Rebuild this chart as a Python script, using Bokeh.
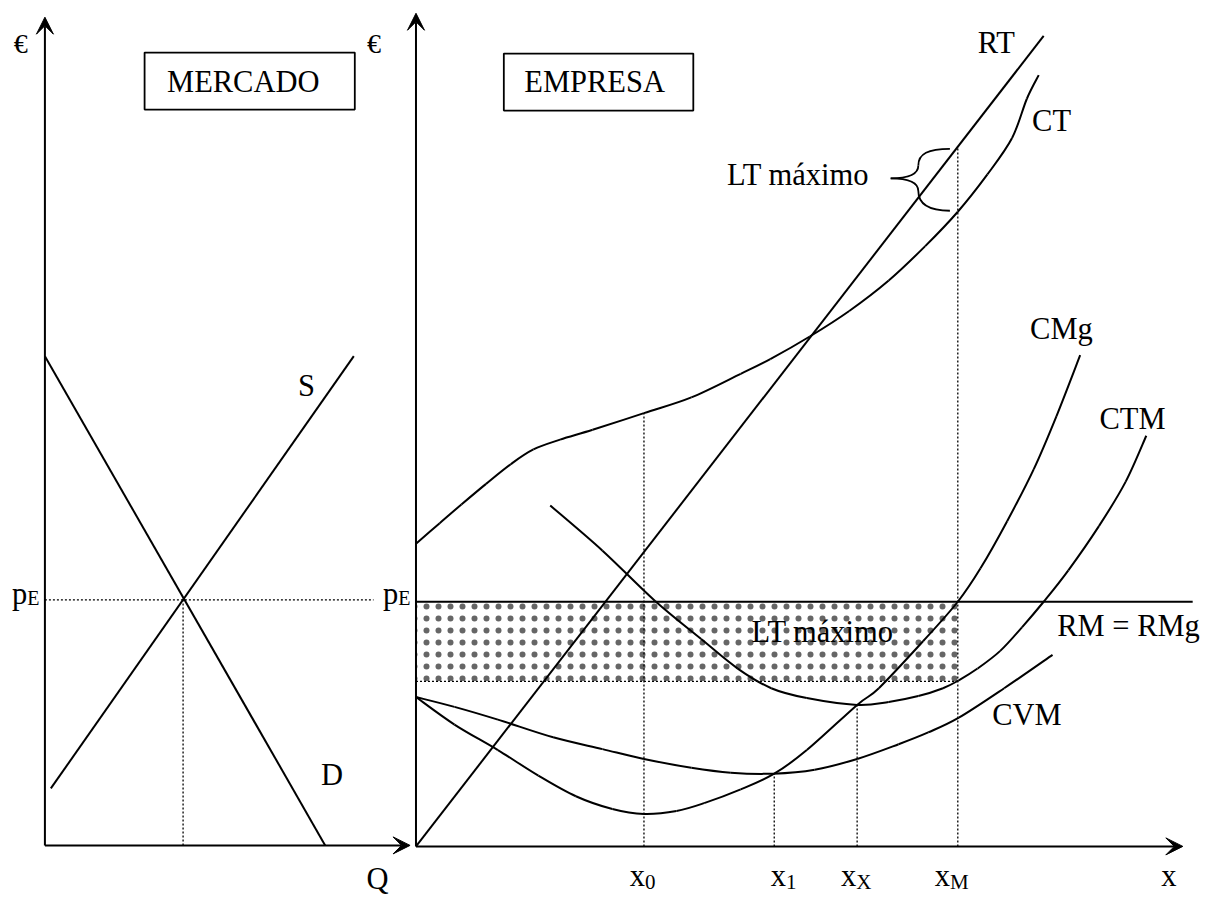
from bokeh.plotting import figure
from bokeh.models import Range1d, Arrow, VeeHead
from bokeh.core.properties import value
from bokeh.embed import file_html
from bokeh.resources import INLINE

FONT = "Liberation Serif"

# ---------------- MERCADO (market panel) ----------------
demand_q = [0, 284]
demand_p = [498, 0]
supply_q = [6, 313]
supply_p = [58, 498]
q_eq = 140
p_eq = 250
q_axis_end = 370
p_axis_end = 843

# ---------------- EMPRESA (firm panel) ----------------
rt_x = [0, 636]
rt_y = [0, 825]

ct_x = [0, 24, 46, 71, 96, 119, 146, 179, 231, 279, 329, 359, 399, 439, 479, 516, 549, 579, 604, 619, 631]
ct_y = [308, 329, 348, 369, 389, 404, 414, 424, 441, 457, 481, 496, 519, 545, 576, 611, 646, 684, 721, 761, 785]

ctm_x = [136, 189, 242, 289, 326, 360, 396, 447, 479, 509, 534, 550, 569, 592, 614, 636, 661, 692, 719, 740]
ctm_y = [347, 301, 250, 211, 181, 161, 151, 144, 147, 153, 161, 169, 181, 199, 223, 249, 281, 326, 371, 418]

cmg_x = [0, 39, 83, 124, 162, 199, 231, 264, 292, 329, 363, 396, 447, 469, 514, 549, 572, 599, 626, 649, 673]
cmg_y = [152, 124, 98, 72, 51, 38, 33, 36, 44, 58, 74, 98, 144, 161, 209, 249, 283, 331, 384, 438, 500]

cvm_x = [0, 39, 83, 139, 189, 231, 279, 319, 362, 404, 447, 489, 519, 550, 596, 645]
cvm_y = [152, 142, 129, 111, 99, 89, 80, 75, 74, 78, 89, 104, 116, 131, 161, 195]

p_e = 249
rm_end = 787
x_0, x_1, x_X, x_M = 231, 363, 447, 549
ct_at_x0 = 441
cvm_min = 74
ctm_min = 144
ctm_at_xM = 168
rt_at_xM = 712
x_axis_end = 777
y_axis_end = 848

x_tick_main = ["x", "x", "x", "x"]
x_tick_sub = ["0", "1", "X", "M"]

# ---------------- figure ----------------
p = figure(width=1206, height=895,
           x_range=Range1d(-421, 801), y_range=Range1d(-50, 861),
           output_backend="svg", toolbar_location=None,
           x_axis_location=None, y_axis_location=None,
           min_border=0, background_fill_color="white",
           border_fill_color="white")
p.extra_x_ranges = {"mkt": Range1d(-45, 1177)}
p.extra_y_ranges = {"mkt": Range1d(-51, 860)}
p.grid.visible = False
p.outline_line_color = None
p.title.visible = False

MK = dict(x_range_name="mkt", y_range_name="mkt")
LW = 2


def smooth_curve(xs, ys, **kw):
    """Draw a smooth curve through the read points (Catmull-Rom as cubic Beziers)."""
    n = len(xs)
    x0, y0, x1, y1, cx0, cy0, cx1, cy1 = ([] for _ in range(8))
    for i in range(n - 1):
        a = max(i - 1, 0)
        d = min(i + 2, n - 1)
        x0.append(xs[i]); y0.append(ys[i])
        x1.append(xs[i + 1]); y1.append(ys[i + 1])
        cx0.append(xs[i] + (xs[i + 1] - xs[a]) / 6)
        cy0.append(ys[i] + (ys[i + 1] - ys[a]) / 6)
        cx1.append(xs[i + 1] - (xs[d] - xs[i]) / 6)
        cy1.append(ys[i + 1] - (ys[d] - ys[i]) / 6)
    p.bezier(x0=x0, y0=y0, x1=x1, y1=y1, cx0=cx0, cy0=cy0, cx1=cx1, cy1=cy1,
             line_width=LW, line_color="black", **kw)


# ---- shaded profit rectangle (dot pattern) ----
p.quad(left=[0], right=[x_M], bottom=[ctm_at_xM], top=[p_e],
       fill_color=None, line_color=None,
       hatch_pattern="dot", hatch_scale=12, hatch_weight=1,
       hatch_color="black", hatch_alpha=0.6)

# ---- market panel ----
p.line([0, 333], [p_eq, p_eq], line_dash="2 2", line_width=1.3, color="black", **MK)
p.line([q_eq, q_eq], [0, p_eq], line_dash="2 2", line_width=1.3, color="black", **MK)
p.line(demand_q, demand_p, line_width=LW, color="black", **MK)
p.line(supply_q, supply_p, line_width=LW, color="black", **MK)
head = dict(size=17, fill_color="black", line_color="black", line_width=1)
p.add_layout(Arrow(end=VeeHead(**head), x_start=0, y_start=0, x_end=0, y_end=p_axis_end,
                   line_width=LW, line_color="black", **MK))
p.add_layout(Arrow(end=VeeHead(**head), x_start=0, y_start=0, x_end=q_axis_end, y_end=0,
                   line_width=LW, line_color="black", **MK))
p.quad(left=[101], right=[314], bottom=[749], top=[807], fill_color=None,
       line_color="black", line_width=1.8, **MK)

# ---- firm panel ----
dl = dict(line_dash="2 2", line_width=1.3, color="black")
p.line([x_0, x_0], [0, ct_at_x0], **dl)
p.line([x_1, x_1], [0, cvm_min], **dl)
p.line([x_X, x_X], [0, ctm_min], **dl)
p.line([x_M, x_M], [0, rt_at_xM], **dl)
p.line([0, x_M], [ctm_at_xM, ctm_at_xM], **dl)
p.line([0, rm_end], [p_e, p_e], line_width=LW, color="black")
p.line(rt_x, rt_y, line_width=LW, color="black")
smooth_curve(ct_x, ct_y)
smooth_curve(ctm_x, ctm_y)
smooth_curve(cmg_x, cmg_y)
smooth_curve(cvm_x, cvm_y)
p.add_layout(Arrow(end=VeeHead(**head), x_start=0, y_start=0, x_end=0, y_end=y_axis_end,
                   line_width=LW, line_color="black"))
p.add_layout(Arrow(end=VeeHead(**head), x_start=0, y_start=0, x_end=x_axis_end, y_end=0,
                   line_width=LW, line_color="black"))
p.quad(left=[89], right=[281], bottom=[749], top=[807], fill_color=None,
       line_color="black", line_width=1.8)

# curly brace for "LT máximo"
p.bezier(x0=[541, 509, 481, 509], y0=[710, 693, 680, 667],
         x1=[509, 481, 509, 541], y1=[693, 680, 667, 647],
         cx0=[519, 509, 497, 509], cy0=[710, 683, 680, 654],
         cx1=[509, 497, 509, 519], cy1=[705, 680, 677, 647],
         line_width=1.8, line_color="black")

# ---- texts (y = visual middle of the text) ----
txt = dict(text_font=value(FONT), text_color="black", text_baseline="middle")
big = value("30.5px")
small = value("20px")

p.text(x=[201, 265, 291, 337], y=[777.5, 468, 71.5, -34],
       text=["MERCADO", "S", "D", "Q"], text_font_size=big, text_align="center", **txt, **MK)
p.text(x=[-24.5], y=[816], text=["€"], text_font_size=value("28px"), text_align="center", **txt, **MK)
p.text(x=[-18], y=[255.5], text=["p"], text_font_size=big, text_align="right", **txt, **MK)
p.text(x=[-18], y=[252], text=["E"], text_font_size=small, text_align="left", **txt, **MK)

p.text(x=[181, 588, 644, 654, 726, 722, 619, 387, 412, 763],
       y=[778, 817.5, 738, 527, 435, 224, 134, 683, 218.5, -30.5],
       text=["EMPRESA", "RT", "CT", "CMg", "CTM", "RM = RMg", "CVM", "LT máximo", "LT máximo", "x"],
       text_font_size=big, text_align="center", **txt)
p.text(x=[-42.5], y=[817], text=["€"], text_font_size=value("28px"), text_align="center", **txt)
p.text(x=[-18], y=[256.5], text=["p"], text_font_size=big, text_align="right", **txt)
p.text(x=[-18], y=[253], text=["E"], text_font_size=small, text_align="left", **txt)

tick_j = [x_0 + 1, x_1 + 12, x_X - 1, x_M - 8]
p.text(x=tick_j, y=[-30.5] * 4, text=x_tick_main, text_font_size=big, text_align="right", **txt)
p.text(x=tick_j, y=[-36] * 4, text=x_tick_sub, text_font_size=value("21px"), text_align="left", **txt)

open("out.html", "w").write(file_html(p, INLINE))
